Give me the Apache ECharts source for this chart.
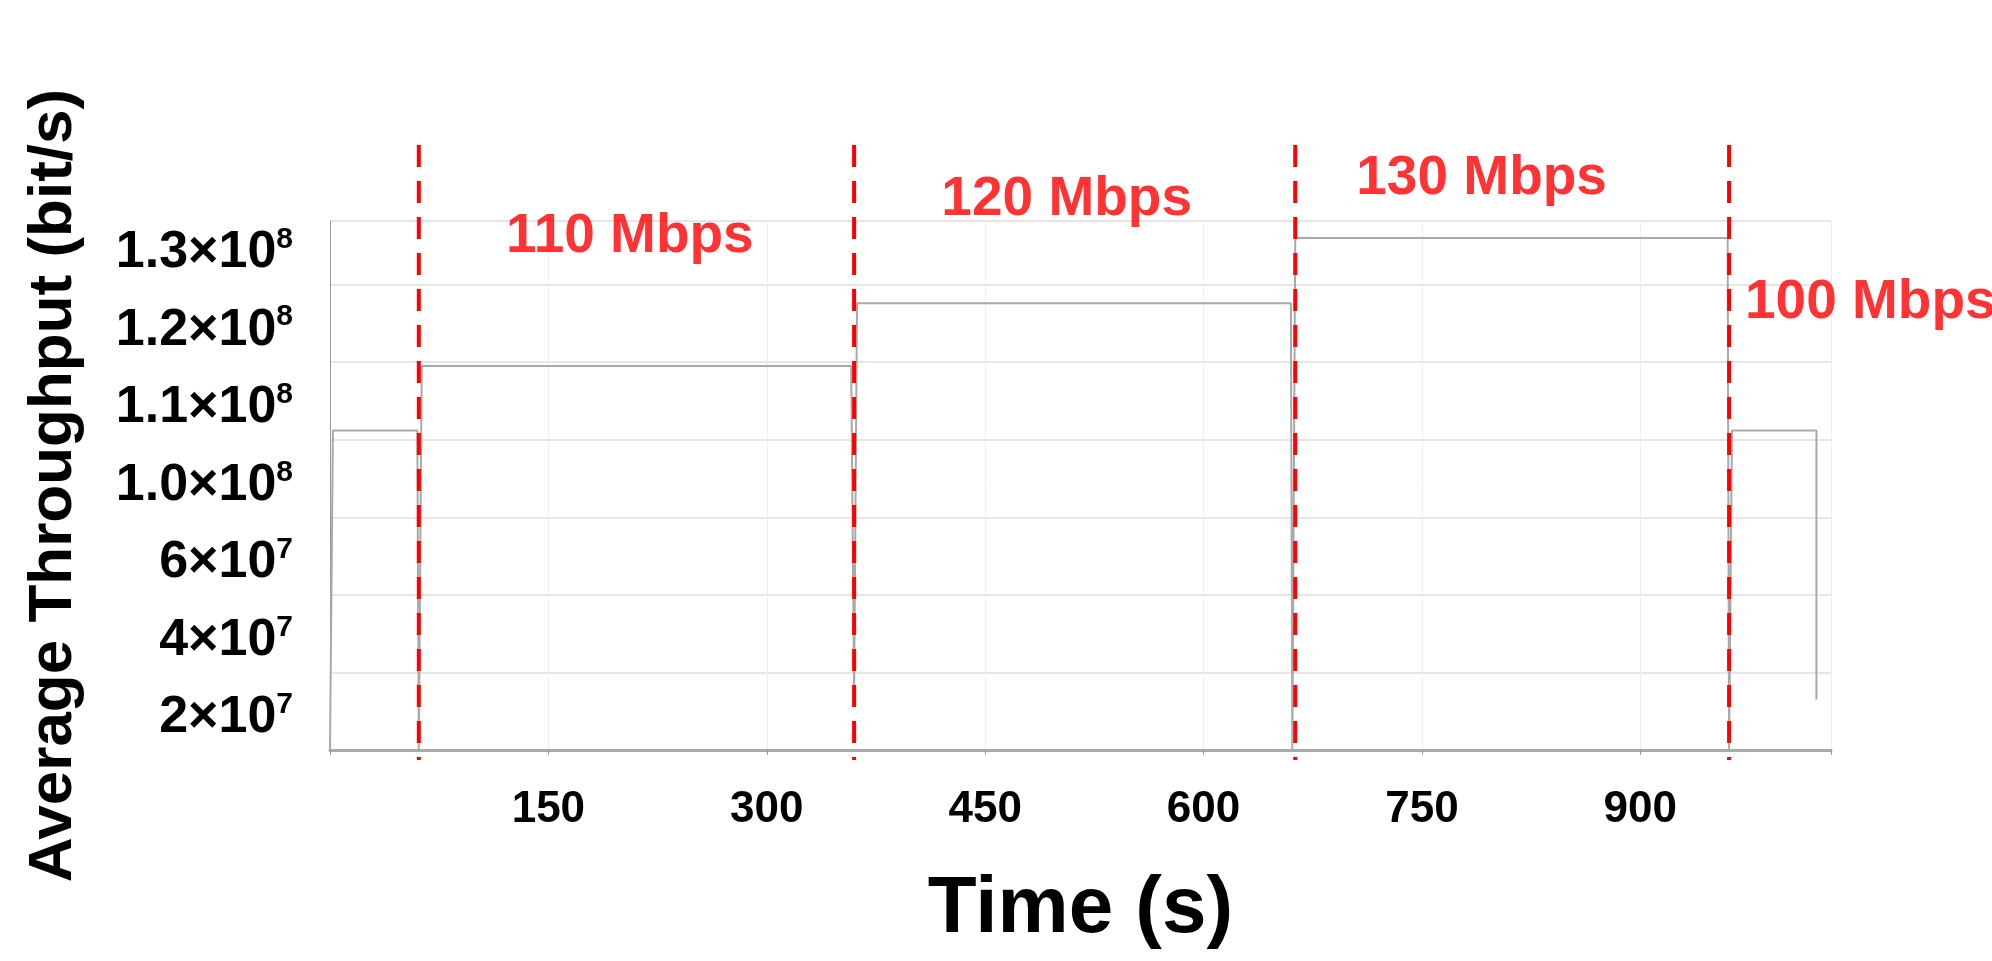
<!DOCTYPE html>
<html><head><meta charset="utf-8">
<script src="https://cdn.jsdelivr.net/npm/echarts@6/dist/echarts.min.js"></script>
<style>html,body{margin:0;padding:0;background:#fff}#c{width:1992px;height:961px}</style>
</head><body><div id="c"></div>
<script>
// tick values drawn at evenly spaced positions (slot 1..7), slot 0 = 0
const tickValues = [0, 2e7, 4e7, 6e7, 1.0e8, 1.1e8, 1.2e8, 1.3e8];
const tickMantissa = ['', '2', '4', '6', '1.0', '1.1', '1.2', '1.3'];
const tickExp = ['', '7', '7', '7', '8', '8', '8', '8'];
const times = [0, 2, 60, 61, 63, 358, 360, 362, 660, 661, 663, 960, 961, 963, 1021, 1021];
const throughput = [0, 1.012e8, 1.012e8, 0, 1.095e8, 1.095e8, 1.5e7, 1.176e8, 1.176e8, 0, 1.26e8, 1.26e8, 0, 1.012e8, 1.012e8, 1.3e7];
const changeTimes = [61, 360, 663, 961];
const rateLabels = ['110 Mbps', '120 Mbps', '130 Mbps', '100 Mbps'];
const rateLabelTimes = [206, 506, 791, 1058];
const rateLabelSlots = [6.61, 7.09, 7.36, 5.76];

function toSlot(v){
  for (let i = 1; i < tickValues.length; i++) {
    if (v <= tickValues[i]) return (i - 1) + (v - tickValues[i-1]) / (tickValues[i] - tickValues[i-1]);
  }
  return tickValues.length - 1;
}
const lineData = times.map((t, i) => [t, toSlot(throughput[i])]);
const font = '"Liberation Sans", Arial, sans-serif';
const dashSeries = changeTimes.map(t => ({
  type: 'line', data: [[t, 7.8], [t, -0.13]], symbol: 'none', clip: false, silent: true,
  lineStyle: {color: '#ff0000', type: [22, 14], width: 4}, z: 3
}));
const chart = echarts.init(document.getElementById('c'));
chart.setOption({
  animation: false,
  grid: {left: 330, right: 161, top: 221, bottom: 211},
  xAxis: {
    type: 'value', min: 0, max: 1031, interval: 150,
    name: 'Time (s)', nameLocation: 'middle', nameGap: 120,
    nameTextStyle: {fontFamily: font, fontWeight: 'bold', fontSize: 80, color: '#000'},
    axisLine: {lineStyle: {color: '#aaa', width: 3}},
    axisTick: {show: true, length: 5, lineStyle: {color: '#999'}},
    axisLabel: {margin: 38, fontFamily: font, fontWeight: 'bold', fontSize: 44, color: '#000',
      formatter: v => (v === 0 || v > 1000) ? '' : String(v)},
    splitLine: {show: true, lineStyle: {color: '#eeeeee', width: 1}}
  },
  yAxis: {
    type: 'value', min: 0, max: 6.82, interval: 1,
    name: 'Average Throughput (bit/s)', nameLocation: 'middle', nameGap: 245, nameRotate: 90,
    nameTextStyle: {fontFamily: font, fontWeight: 'bold', fontSize: 62, color: '#000'},
    axisLine: {show: true, lineStyle: {color: '#999', width: 1}},
    axisTick: {show: false},
    axisLabel: {
      margin: 37, verticalAlign: 'bottom', padding: [0, 0, 4, 0],
      formatter: v => { const i = Math.round(v) + 1; if (i < 1 || i > 7) return ''; return '{m|' + tickMantissa[i] + '×10}{e|' + tickExp[i] + '}'; },
      rich: {
        m: {fontFamily: font, fontWeight: 'bold', fontSize: 52, color: '#000'},
        e: {fontFamily: font, fontWeight: 'bold', fontSize: 30, color: '#000', verticalAlign: 'top', padding: [0, 0, 26, 0]}
      }
    },
    splitLine: {show: true, lineStyle: {color: '#e6e6e6', width: 2}}
  },
  series: [
    {
      type: 'line', data: lineData, symbol: 'none', clip: false,
      lineStyle: {color: '#a9a9a9', width: 2}
    },
    ...dashSeries,
    {
      type: 'scatter', symbolSize: 0, clip: false,
      data: rateLabelTimes.map((t, i) => ({value: [t, rateLabelSlots[i]], name: rateLabels[i]})),
      label: {show: true, position: 'inside', formatter: p => p.name,
        fontFamily: font, fontWeight: 'bold', fontSize: 55, color: '#ff0000'}
    }
  ]
});
</script></body></html>
